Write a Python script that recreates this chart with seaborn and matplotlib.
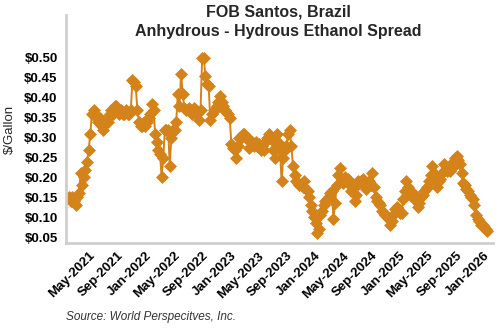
import matplotlib
matplotlib.use("Agg")
import matplotlib.pyplot as plt
import matplotlib.dates as mdates
import matplotlib.ticker as mticker
import seaborn as sns
import pandas as pd

# Weekly anhydrous minus hydrous ethanol spread, FOB Santos ($/gallon)
first_week = "2021-02-05"
spread = [
    0.15, 0.14, 0.15, 0.14, 0.13,
    0.15, 0.16, 0.21, 0.18, 0.20,
    0.22, 0.24, 0.27, 0.31, 0.36,
    0.37, 0.36, 0.35, 0.34, 0.35,
    0.33, 0.32, 0.34, 0.35, 0.34,
    0.36, 0.37, 0.36, 0.38, 0.38,
    0.37, 0.36, 0.37, 0.36, 0.36,
    0.37, 0.36, 0.36, 0.37, 0.445,
    0.44, 0.43, 0.37, 0.34, 0.33,
    0.33, 0.34, 0.33, 0.34, 0.35,
    0.36, 0.385, 0.37, 0.31, 0.29,
    0.27, 0.26, 0.20, 0.25, 0.32,
    0.32, 0.32, 0.23, 0.30, 0.32,
    0.32, 0.34, 0.41, 0.38, 0.46,
    0.41, 0.375, 0.37, 0.37, 0.375,
    0.365, 0.36, 0.375, 0.37, 0.36,
    0.345, 0.37, 0.50, 0.50, 0.455,
    0.435, 0.43, 0.345, 0.36, 0.37,
    0.37, 0.38, 0.39, 0.405, 0.39,
    0.38, 0.37, 0.365, 0.36, 0.35,
    0.285, 0.275, 0.27, 0.25, 0.28,
    0.30, 0.30, 0.31, 0.31, 0.30,
    0.30, 0.275, 0.29, 0.29, 0.28,
    0.29, 0.28, 0.285, 0.27, 0.28,
    0.27, 0.29, 0.30, 0.31, 0.30,
    0.295, 0.27, 0.25, 0.31, 0.29,
    0.27, 0.19, 0.25, 0.27, 0.28,
    0.31, 0.32, 0.28, 0.23, 0.205,
    0.19, 0.185, 0.18, 0.18, 0.175,
    0.19, 0.17, 0.165, 0.15, 0.13,
    0.115, 0.10, 0.085, 0.06, 0.07,
    0.105, 0.115, 0.13, 0.14, 0.145,
    0.15, 0.16, 0.165, 0.095, 0.135,
    0.18, 0.205, 0.225, 0.19, 0.185,
    0.20, 0.19, 0.195, 0.18, 0.165,
    0.17, 0.14, 0.155, 0.19, 0.185,
    0.19, 0.195, 0.18, 0.17, 0.175,
    0.19, 0.18, 0.21, 0.175, 0.15,
    0.14, 0.135, 0.13, 0.115, 0.11,
    0.105, 0.10, 0.095, 0.08, 0.09,
    0.105, 0.12, 0.125, 0.12, 0.11,
    0.11, 0.145, 0.165, 0.19, 0.175,
    0.155, 0.155, 0.16, 0.15, 0.14,
    0.125, 0.135, 0.15, 0.155, 0.165,
    0.17, 0.175, 0.19, 0.205, 0.23,
    0.21, 0.185, 0.175, 0.19, 0.195,
    0.21, 0.235, 0.22, 0.215, 0.22,
    0.215, 0.225, 0.24, 0.25, 0.255,
    0.245, 0.235, 0.21, 0.185, 0.18,
    0.17, 0.165, 0.155, 0.15, 0.145,
    0.13, 0.105, 0.095, 0.09, 0.08,
    0.08, 0.075, 0.07, 0.065,
]
y_ticks = [0.05, 0.10, 0.15, 0.20, 0.25, 0.30, 0.35, 0.40, 0.45, 0.50]

df = pd.DataFrame({
    "week": pd.date_range(first_week, periods=len(spread), freq="W-FRI"),
    "spread": spread,
})

sns.set_style("white")
plt.rcParams["font.family"] = ["Liberation Sans", "DejaVu Sans"]

color = "#D4831A"
fig = plt.figure(figsize=(5, 3.3), dpi=100)
ax = fig.add_axes([0.132, 0.264, 0.854, 0.69])

sns.lineplot(data=df, x="week", y="spread", ax=ax, color=color,
             linewidth=1.4, marker="D", markersize=6,
             markeredgecolor=color, markeredgewidth=0.5)

ax.set_xlim(pd.Timestamp("2021-01-22"), pd.Timestamp("2026-02-09"))
ax.set_ylim(0.036, 0.607)
ax.set_yticks(y_ticks)
ax.yaxis.set_major_formatter(mticker.StrMethodFormatter("${x:.2f}"))
ax.xaxis.set_major_locator(mdates.MonthLocator(bymonth=[1, 5, 9]))
ax.xaxis.set_major_formatter(mdates.DateFormatter("%b-%Y"))

for side in ("top", "right"):
    ax.spines[side].set_visible(False)
for side in ("left", "bottom"):
    ax.spines[side].set_color("#CFCFCF")
    ax.spines[side].set_linewidth(2)

ax.tick_params(axis="both", direction="out", length=4, width=1,
               color="#222222", labelcolor="black")
ax.tick_params(axis="y", labelsize=9.5, pad=2)
ax.tick_params(axis="x", labelsize=9.5, pad=1)
for lbl in ax.get_yticklabels():
    lbl.set_fontweight("bold")
for lbl in ax.get_xticklabels():
    lbl.set_fontweight("bold")
    lbl.set_rotation(45)
    lbl.set_ha("right")
    lbl.set_rotation_mode("anchor")

ax.set_xlabel("")
ax.set_ylabel("$/Gallon", fontsize=9.5, labelpad=6)
ax.grid(False)

fig.text(0.557, 0.985, "FOB Santos, Brazil\nAnhydrous - Hydrous Ethanol Spread",
         ha="center", va="top", fontsize=11.5, fontweight="bold",
         linespacing=1.3)
fig.text(0.132, 0.04, "Source: World Perspecitves, Inc.", ha="left",
         va="center", fontsize=8.5, style="italic", color="#333333")

fig.savefig("out.png", dpi=100)
